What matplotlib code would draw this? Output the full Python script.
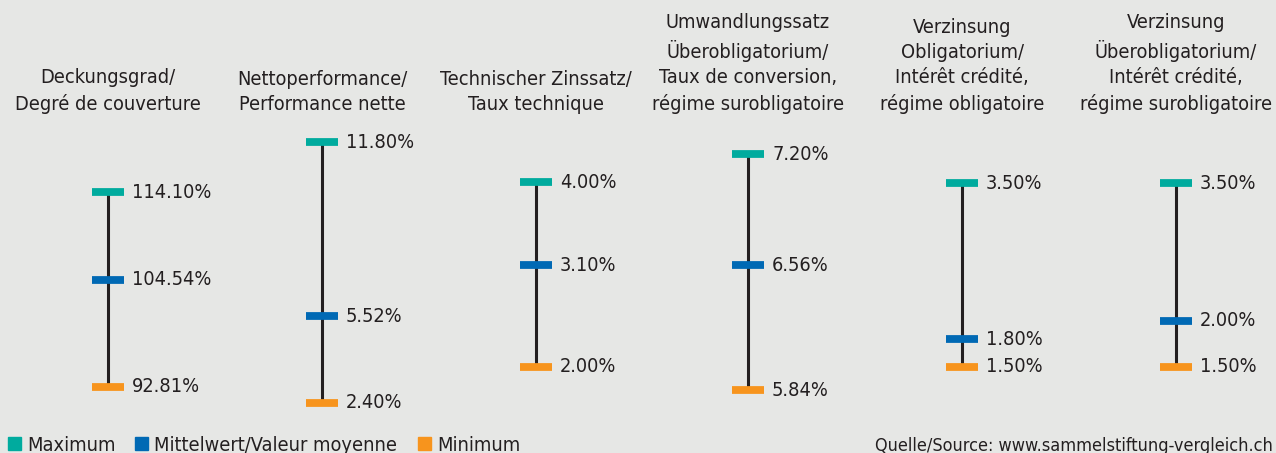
import matplotlib.pyplot as plt
from matplotlib.patches import Rectangle

plt.rcParams['font.family'] = ['DejaVu Sans']
plt.rcParams['font.stretch'] = 'condensed'

titles = [
    "Deckungsgrad/\nDegré de couverture",
    "Nettoperformance/\nPerformance nette",
    "Technischer Zinssatz/\nTaux technique",
    "Umwandlungssatz\nÜberobligatorium/\nTaux de conversion,\nrégime surobligatoire",
    "Verzinsung\nObligatorium/\nIntérêt crédité,\nrégime obligatoire",
    "Verzinsung\nÜberobligatorium/\nIntérêt crédité,\nrégime surobligatoire",
]
maximum = [114.10, 11.80, 4.00, 7.20, 3.50, 3.50]
mittelwert = [104.54, 5.52, 3.10, 6.56, 1.80, 2.00]
minimum = [92.81, 2.40, 2.00, 5.84, 1.50, 1.50]

# layout (pixels from top) where max / min land in each column
centers = [108, 322, 536, 748, 962, 1176]
ypix_max = [192, 142, 182, 154, 183, 183]
ypix_min = [387, 403, 367, 390, 367, 367]

W, H = 1276, 453
bg = '#e6e7e5'
c_max, c_mean, c_min = '#00ab9e', '#0069b4', '#f7941d'
dark = '#231f20'
fs = 14.3

fig = plt.figure(figsize=(W / 100, H / 100), dpi=100)
fig.patch.set_facecolor(bg)

for i in range(6):
    ax = fig.add_axes([(centers[i] - 100) / W, 0, 200 / W, 1])
    ax.set_facecolor('none')
    ax.axis('off')
    fmax = 1 - ypix_max[i] / H
    fmin = 1 - ypix_min[i] / H
    b = (maximum[i] - minimum[i]) / (fmax - fmin)
    a = maximum[i] - b * fmax
    ax.set_ylim(a, a + b)
    ax.set_xlim(-100, 100)
    ax.vlines(0, minimum[i], maximum[i], color=dark, lw=2.2, zorder=1)
    for v, c in [(maximum[i], c_max), (mittelwert[i], c_mean), (minimum[i], c_min)]:
        ax.hlines(v, -16, 16, color=c, lw=5.6, zorder=2)
        ax.text(24, v, f"{v:.2f}%", ha='left', va='center', fontsize=fs, color=dark)
    fig.text(centers[i] / W, 1 - 114 / H, titles[i], ha='center', va='bottom',
             fontsize=fs, color=dark, linespacing=1.42)

# legend
leg = [(8, c_max, "Maximum"), (135, c_mean, "Mittelwert/Valeur moyenne"), (418, c_min, "Minimum")]
for x, c, t in leg:
    fig.patches.append(Rectangle((x / W, 1 - 450 / H), 13 / W, 13 / H,
                                 transform=fig.transFigure, color=c, figure=fig))
    fig.text((x + 19) / W, 1 - 451 / H, t, ha='left', va='baseline', fontsize=fs, color=dark)

fig.text(1273 / W, 1 - 451 / H, "Quelle/Source: www.sammelstiftung-vergleich.ch",
         ha='right', va='baseline', fontsize=13, color=dark)

fig.savefig('out.png', dpi=100, facecolor=bg)
